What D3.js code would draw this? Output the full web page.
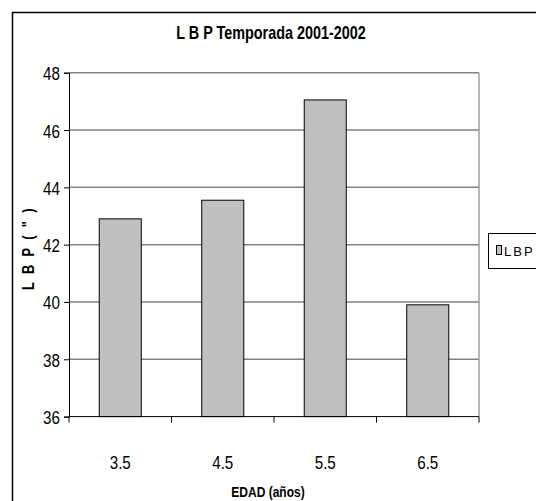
<!DOCTYPE html>
<html>
<head>
<meta charset="utf-8">
<script src="https://cdn.jsdelivr.net/npm/d3@7"></script>
<style>
  body { margin: 0; background: #fff; }
  svg { display: block; }
  text { font-family: "Liberation Sans", Arial, sans-serif; fill: #000; }
</style>
</head>
<body>
<svg width="536" height="501"></svg>
<script>
// data
var edades = ["3.5", "4.5", "5.5", "6.5"];
var lbp = [42.9, 43.55, 47.05, 39.9];
var yTicks = [36, 38, 40, 42, 44, 46, 48];

var svg = d3.select("svg");
var margin = {left: 69, top: 72.7, right: 479, bottom: 416.6};
var narrow = 0.8; // arial narrow look-alike

var x = d3.scaleBand()
    .domain(edades)
    .range([margin.left, margin.right])
    .paddingInner(0.59)
    .paddingOuter(0.295);

var xb = d3.scaleBand().domain(edades).range([margin.left, margin.right]);

var y = d3.scaleLinear()
    .domain([36, 48])
    .range([margin.bottom, margin.top]);

// condensed text helper
function ntext(g, px, py, str, size, anchor, bold, rot) {
    return g.append("text")
        .attr("transform", "translate(" + px + "," + py + ")" + (rot ? " rotate(" + rot + ")" : "") + " scale(" + narrow + ",1)")
        .attr("text-anchor", anchor)
        .style("font-size", size + "px")
        .style("font-weight", bold ? "bold" : "normal")
        .text(str);
}

// outer chart border
svg.append("rect")
    .attr("x", 12.5).attr("y", 12.5)
    .attr("width", 540).attr("height", 500)
    .attr("fill", "none").attr("stroke", "#000").attr("stroke-width", 1.5);

// gridlines
svg.append("g").selectAll("line")
    .data(yTicks.slice(1))
    .enter().append("line")
    .attr("x1", margin.left).attr("x2", margin.right)
    .attr("y1", function(d) { return y(d); })
    .attr("y2", function(d) { return y(d); })
    .attr("stroke", "#808080").attr("stroke-width", 1.5);

// right border of plot area
svg.append("line")
    .attr("x1", margin.right).attr("x2", margin.right)
    .attr("y1", margin.top).attr("y2", margin.bottom)
    .attr("stroke", "#a0a0a0").attr("stroke-width", 1.5);

// bars
svg.append("g").selectAll("rect")
    .data(lbp)
    .enter().append("rect")
    .attr("x", function(d, i) { return x(edades[i]); })
    .attr("y", function(d) { return y(d); })
    .attr("width", x.bandwidth())
    .attr("height", function(d) { return y(36) - y(d); })
    .attr("fill", "#c0c0c0")
    .attr("stroke", "#000").attr("stroke-width", 1);

// y axis
var yAxis = svg.append("g")
    .attr("transform", "translate(" + margin.left + ",0)")
    .call(d3.axisLeft(y).tickValues(yTicks).tickSize(5).tickFormat(d3.format("d")));
yAxis.select(".domain").attr("stroke", "#000");
yAxis.selectAll(".tick text").remove();
yAxis.selectAll(".tick").each(function(d) {
    ntext(d3.select(this), -9, 7, d, 19, "end", false);
});

// x axis: ticks on category boundaries
var xAxis = svg.append("g")
    .attr("transform", "translate(0," + margin.bottom + ")");
xAxis.append("line")
    .attr("x1", margin.left).attr("x2", margin.right)
    .attr("stroke", "#000").attr("stroke-width", 1);
xAxis.selectAll(".tk")
    .data(edades.concat(["end"]))
    .enter().append("line")
    .attr("x1", function(d, i) { return i < edades.length ? xb(d) : margin.right; })
    .attr("x2", function(d, i) { return i < edades.length ? xb(d) : margin.right; })
    .attr("y1", 0).attr("y2", 6)
    .attr("stroke", "#000");
edades.forEach(function(d) {
    ntext(xAxis, xb(d) + xb.bandwidth() / 2, 52, d, 19, "middle", false);
});

// titles
ntext(svg, 271, 39, "L B P Temporada 2001-2002", 18, "middle", true);
ntext(svg, 268, 497, "EDAD (años)", 15, "middle", true);
ntext(svg, 34, 248, "L B P ( \" )", 16, "middle", true, -90)
    .style("letter-spacing", "3px");

// legend
var legend = svg.append("g");
legend.append("rect")
    .attr("x", 488.5).attr("y", 233.5)
    .attr("width", 60).attr("height", 35)
    .attr("fill", "#fff").attr("stroke", "#000").attr("stroke-width", 1);
legend.append("rect")
    .attr("x", 496.5).attr("y", 245.5)
    .attr("width", 5).attr("height", 9)
    .attr("fill", "#c0c0c0").attr("stroke", "#000");
legend.append("text")
    .attr("x", 504).attr("y", 256)
    .style("font-size", "13px")
    .style("letter-spacing", "2px")
    .text("LBP");
</script>
</body>
</html>
